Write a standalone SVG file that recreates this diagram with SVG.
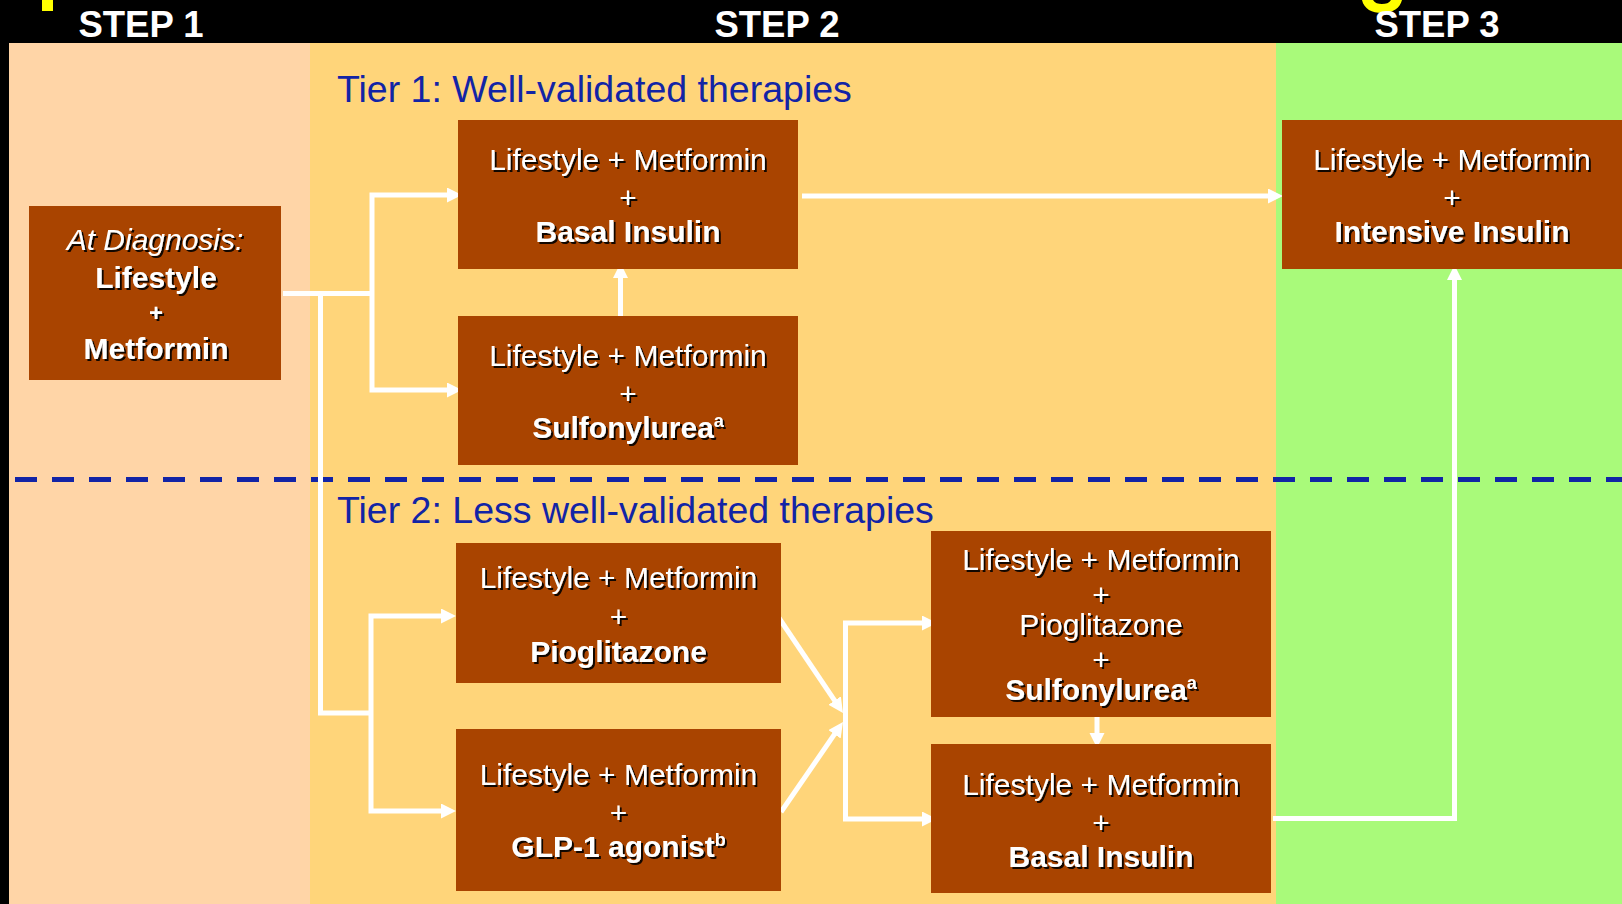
<svg xmlns="http://www.w3.org/2000/svg" width="1622" height="904" viewBox="0 0 1622 904">
<style>
.box{fill:#A94400}
.t{font-family:"Liberation Sans",Arial,sans-serif;fill:#fff;text-anchor:middle;font-size:30px;filter:url(#sh)}
.b{font-weight:bold}
.i{font-style:italic}
.tier{font-family:"Liberation Sans",Arial,sans-serif;fill:#1224A6;font-size:37.5px}
.step{font-family:"Liberation Sans",Arial,sans-serif;fill:#fff;font-weight:bold;font-size:36.5px;text-anchor:middle}
.c{fill:none;stroke:#fff;stroke-width:5;stroke-linejoin:miter}
.a{marker-end:url(#ah)}
.a2{marker-start:url(#ah);marker-end:url(#ah)}
</style>
<defs>
<filter id="sh" x="-10%" y="-30%" width="120%" height="160%">
<feDropShadow dx="2" dy="2" stdDeviation="0.4" flood-color="#000" flood-opacity="0.9"/>
</filter>
<marker id="ah" markerUnits="userSpaceOnUse" markerWidth="16" markerHeight="16" refX="5" refY="7.5" orient="auto-start-reverse">
<path d="M0,0 L15,7.5 L0,15 z" fill="#fff"/>
</marker>
</defs>
<rect x="0" y="0" width="1622" height="904" fill="#000"/>
<rect x="9" y="43" width="301" height="861" fill="#FFD5A7"/>
<rect x="310" y="43" width="966" height="861" fill="#FFD57A"/>
<rect x="1276" y="43" width="346" height="861" fill="#A9FA7A"/>
<g id="title-fragments" fill="#FFFF00">
<rect x="42" y="0" width="11" height="11"/>
<path d="M1362,0 C1364,9 1372,13 1382,13 C1393,13 1400,8 1402,0 L1391,0 C1389,3 1386,4 1382,4 C1378,4 1375,3 1373,0 Z"/>
</g>
<g id="steps">
<text class="step" x="141" y="37">STEP 1</text>
<text class="step" x="777" y="37">STEP 2</text>
<text class="step" x="1437" y="37">STEP 3</text>
</g>
<line x1="15" y1="479.5" x2="1622" y2="479.5" stroke="#1224A6" stroke-width="5" stroke-dasharray="22 15"/>
<text class="tier" x="337" y="102">Tier 1: Well-validated therapies</text>
<text class="tier" x="337" y="523">Tier 2: Less well-validated therapies</text>
<g id="connectors">
<path class="c" d="M283,293.5 H372"/>
<path class="c a2" d="M452,195 H372 V390 H452"/>
<path class="c" d="M320.5,293.5 V713 H371"/>
<path class="c a2" d="M446,616 H371 V811 H446"/>
<path class="c a" d="M620.5,316 V273"/>
<path class="c a" d="M802,196 H1273"/>
<path class="c a" d="M779,618 L837.4,704.7"/>
<path class="c a" d="M781,812 L837.3,730.2"/>
<path class="c a2" d="M927,623 H845.5 V819 H927"/>
<path class="c a" d="M1097,717 V738"/>
<path class="c a" d="M1273,818.5 H1454.5 V275"/>
</g>
<g id="diagnosis">
<rect class="box" x="29" y="206" width="252" height="174"/>
<text class="t i" x="155" y="250">At Diagnosis:</text>
<text class="t b" x="156" y="288">Lifestyle</text>
<text class="t b" x="156" y="321" style="font-size:24px">+</text>
<text class="t b" x="156" y="359">Metformin</text>
</g>
<g id="basal1">
<rect class="box" x="458" y="120" width="340" height="149"/>
<text class="t" x="628" y="170">Lifestyle + Metformin</text>
<text class="t" x="628" y="208">+</text>
<text class="t b" x="628" y="242">Basal Insulin</text>
</g>
<g id="sulfonylurea">
<rect class="box" x="458" y="316" width="340" height="149"/>
<text class="t" x="628" y="366">Lifestyle + Metformin</text>
<text class="t" x="628" y="404">+</text>
<text class="t b" x="628" y="438">Sulfonylurea<tspan style="font-size:18px" dy="-11">a</tspan></text>
</g>
<g id="intensive">
<rect class="box" x="1282" y="120" width="340" height="149"/>
<text class="t" x="1452" y="170">Lifestyle + Metformin</text>
<text class="t" x="1452" y="208">+</text>
<text class="t b" x="1452" y="242">Intensive Insulin</text>
</g>
<g id="pioglitazone">
<rect class="box" x="456" y="543" width="325" height="140"/>
<text class="t" x="618.5" y="588">Lifestyle + Metformin</text>
<text class="t" x="618.5" y="627">+</text>
<text class="t b" x="618.5" y="662">Pioglitazone</text>
</g>
<g id="glp1">
<rect class="box" x="456" y="729" width="325" height="162"/>
<text class="t" x="618.5" y="785">Lifestyle + Metformin</text>
<text class="t" x="618.5" y="823">+</text>
<text class="t b" x="618.5" y="857">GLP-1 agonist<tspan style="font-size:18px" dy="-11">b</tspan></text>
</g>
<g id="pio-su">
<rect class="box" x="931" y="531" width="340" height="186"/>
<text class="t" x="1101" y="570">Lifestyle + Metformin</text>
<text class="t" x="1101" y="605">+</text>
<text class="t" x="1101" y="635">Pioglitazone</text>
<text class="t" x="1101" y="670">+</text>
<text class="t b" x="1101" y="700">Sulfonylurea<tspan style="font-size:18px" dy="-11">a</tspan></text>
</g>
<g id="basal2">
<rect class="box" x="931" y="744" width="340" height="149"/>
<text class="t" x="1101" y="795">Lifestyle + Metformin</text>
<text class="t" x="1101" y="833">+</text>
<text class="t b" x="1101" y="867">Basal Insulin</text>
</g>
</svg>
